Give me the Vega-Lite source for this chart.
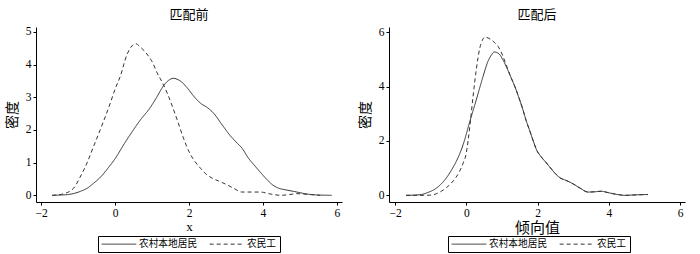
{
  "$schema": "https://vega.github.io/schema/vega-lite/v6.json",
  "background": "white",
  "padding": {"left": 5, "top": 8, "right": 5, "bottom": 0},
  "spacing": 16,
  "config": {
    "font": "Liberation Serif, Noto Sans CJK SC",
    "view": {"stroke": null},
    "axis": {
      "grid": false,
      "domainColor": "#000",
      "tickColor": "#000",
      "labelColor": "#000",
      "titleColor": "#000",
      "labelFont": "Liberation Serif",
      "labelFontSize": 11.5,
      "tickSize": 3,
      "labelPadding": 2,
      "titleFontWeight": "normal",
      "titleFont": "Liberation Serif, Noto Sans CJK SC",
      "domainWidth": 1,
      "tickWidth": 1
    },
    "title": {"fontWeight": "normal", "fontSize": 13, "font": "Liberation Serif, Noto Sans CJK SC", "color": "#000", "offset": 4},
    "legend": {
      "title": null,
      "direction": "horizontal",
      "strokeColor": "#000",
      "fillColor": "white",
      "padding": 3,
      "symbolType": "M-1,0H7",
      "symbolSize": 75,
      "symbolStrokeWidth": 1,
      "symbolStrokeColor": "#333",
      "labelFontSize": 9.7,
      "labelFont": "Noto Sans CJK SC",
      "labelColor": "#000",
      "columnPadding": 9,
      "labelOffset": 28
    }
  },
  "datasets": {
    "before": [
      {"group": "农村本地居民", "x": -1.70, "y": 0},
      {"group": "农村本地居民", "x": -1.45, "y": 0.01},
      {"group": "农村本地居民", "x": -1.30, "y": 0.02},
      {"group": "农村本地居民", "x": -1.10, "y": 0.06},
      {"group": "农村本地居民", "x": -0.94, "y": 0.12},
      {"group": "农村本地居民", "x": -0.75, "y": 0.22},
      {"group": "农村本地居民", "x": -0.58, "y": 0.37},
      {"group": "农村本地居民", "x": -0.40, "y": 0.55},
      {"group": "农村本地居民", "x": -0.20, "y": 0.82},
      {"group": "农村本地居民", "x": 0.00, "y": 1.12},
      {"group": "农村本地居民", "x": 0.25, "y": 1.58},
      {"group": "农村本地居民", "x": 0.50, "y": 2.01},
      {"group": "农村本地居民", "x": 0.70, "y": 2.33},
      {"group": "农村本地居民", "x": 0.91, "y": 2.62},
      {"group": "农村本地居民", "x": 1.10, "y": 2.95},
      {"group": "农村本地居民", "x": 1.31, "y": 3.35},
      {"group": "农村本地居民", "x": 1.45, "y": 3.52},
      {"group": "农村本地居民", "x": 1.58, "y": 3.58},
      {"group": "农村本地居民", "x": 1.70, "y": 3.54},
      {"group": "农村本地居民", "x": 1.80, "y": 3.47},
      {"group": "农村本地居民", "x": 1.95, "y": 3.29},
      {"group": "农村本地居民", "x": 2.13, "y": 3.03},
      {"group": "农村本地居民", "x": 2.31, "y": 2.82},
      {"group": "农村本地居民", "x": 2.50, "y": 2.68},
      {"group": "农村本地居民", "x": 2.66, "y": 2.52},
      {"group": "农村本地居民", "x": 2.90, "y": 2.15},
      {"group": "农村本地居民", "x": 3.12, "y": 1.82},
      {"group": "农村本地居民", "x": 3.30, "y": 1.60},
      {"group": "农村本地居民", "x": 3.43, "y": 1.45},
      {"group": "农村本地居民", "x": 3.60, "y": 1.15},
      {"group": "农村本地居民", "x": 3.79, "y": 0.89},
      {"group": "农村本地居民", "x": 3.95, "y": 0.68},
      {"group": "农村本地居民", "x": 4.11, "y": 0.48},
      {"group": "农村本地居民", "x": 4.25, "y": 0.33},
      {"group": "农村本地居民", "x": 4.42, "y": 0.22},
      {"group": "农村本地居民", "x": 4.60, "y": 0.17},
      {"group": "农村本地居民", "x": 4.83, "y": 0.12},
      {"group": "农村本地居民", "x": 5.00, "y": 0.08},
      {"group": "农村本地居民", "x": 5.19, "y": 0.04},
      {"group": "农村本地居民", "x": 5.46, "y": 0.01},
      {"group": "农村本地居民", "x": 5.86, "y": 0},
      {"group": "农民工", "x": -1.70, "y": 0},
      {"group": "农民工", "x": -1.45, "y": 0.03},
      {"group": "农民工", "x": -1.12, "y": 0.22},
      {"group": "农民工", "x": -0.95, "y": 0.55},
      {"group": "农民工", "x": -0.76, "y": 0.99},
      {"group": "农民工", "x": -0.58, "y": 1.50},
      {"group": "农民工", "x": -0.40, "y": 2.01},
      {"group": "农民工", "x": -0.13, "y": 2.82},
      {"group": "农民工", "x": 0.00, "y": 3.25},
      {"group": "农民工", "x": 0.14, "y": 3.64},
      {"group": "农民工", "x": 0.32, "y": 4.30},
      {"group": "农民工", "x": 0.42, "y": 4.52},
      {"group": "农民工", "x": 0.55, "y": 4.64},
      {"group": "农民工", "x": 0.70, "y": 4.52},
      {"group": "农民工", "x": 0.91, "y": 4.25},
      {"group": "农民工", "x": 1.02, "y": 4.05},
      {"group": "农民工", "x": 1.14, "y": 3.74},
      {"group": "农民工", "x": 1.28, "y": 3.45},
      {"group": "农民工", "x": 1.41, "y": 3.13},
      {"group": "农民工", "x": 1.55, "y": 2.72},
      {"group": "农民工", "x": 1.68, "y": 2.31},
      {"group": "农民工", "x": 1.85, "y": 1.75},
      {"group": "农民工", "x": 2.02, "y": 1.29},
      {"group": "农民工", "x": 2.15, "y": 1.05},
      {"group": "农民工", "x": 2.31, "y": 0.83},
      {"group": "农民工", "x": 2.45, "y": 0.66},
      {"group": "农民工", "x": 2.62, "y": 0.53},
      {"group": "农民工", "x": 2.80, "y": 0.44},
      {"group": "农民工", "x": 3.03, "y": 0.32},
      {"group": "农民工", "x": 3.20, "y": 0.22},
      {"group": "农民工", "x": 3.43, "y": 0.10},
      {"group": "农民工", "x": 3.70, "y": 0.10},
      {"group": "农民工", "x": 3.93, "y": 0.10},
      {"group": "农民工", "x": 4.20, "y": 0.04},
      {"group": "农民工", "x": 4.47, "y": 0.00},
      {"group": "农民工", "x": 4.70, "y": 0.02},
      {"group": "农民工", "x": 4.92, "y": 0.05},
      {"group": "农民工", "x": 5.20, "y": 0.03},
      {"group": "农民工", "x": 5.55, "y": 0}
    ],
    "after": [
      {"group": "农村本地居民", "x": -1.69, "y": 0},
      {"group": "农村本地居民", "x": -1.45, "y": 0.01},
      {"group": "农村本地居民", "x": -1.26, "y": 0.03},
      {"group": "农村本地居民", "x": -1.05, "y": 0.12},
      {"group": "农村本地居民", "x": -0.89, "y": 0.22},
      {"group": "农村本地居民", "x": -0.72, "y": 0.40},
      {"group": "农村本地居民", "x": -0.56, "y": 0.64},
      {"group": "农村本地居民", "x": -0.42, "y": 0.92},
      {"group": "农村本地居民", "x": -0.28, "y": 1.25},
      {"group": "农村本地居民", "x": -0.09, "y": 1.86},
      {"group": "农村本地居民", "x": 0.10, "y": 2.72},
      {"group": "农村本地居民", "x": 0.28, "y": 3.51},
      {"group": "农村本地居民", "x": 0.47, "y": 4.37},
      {"group": "农村本地居民", "x": 0.61, "y": 4.93},
      {"group": "农村本地居民", "x": 0.70, "y": 5.15},
      {"group": "农村本地居民", "x": 0.78, "y": 5.27},
      {"group": "农村本地居民", "x": 0.86, "y": 5.25},
      {"group": "农村本地居民", "x": 0.94, "y": 5.17},
      {"group": "农村本地居民", "x": 1.03, "y": 4.98},
      {"group": "农村本地居民", "x": 1.12, "y": 4.74},
      {"group": "农村本地居民", "x": 1.24, "y": 4.38},
      {"group": "农村本地居民", "x": 1.36, "y": 4.01},
      {"group": "农村本地居民", "x": 1.48, "y": 3.58},
      {"group": "农村本地居民", "x": 1.59, "y": 3.15},
      {"group": "农村本地居民", "x": 1.68, "y": 2.75},
      {"group": "农村本地居民", "x": 1.78, "y": 2.38},
      {"group": "农村本地居民", "x": 1.88, "y": 2.00},
      {"group": "农村本地居民", "x": 1.97, "y": 1.68},
      {"group": "农村本地居民", "x": 2.10, "y": 1.42},
      {"group": "农村本地居民", "x": 2.25, "y": 1.19},
      {"group": "农村本地居民", "x": 2.40, "y": 0.95},
      {"group": "农村本地居民", "x": 2.53, "y": 0.76},
      {"group": "农村本地居民", "x": 2.65, "y": 0.63},
      {"group": "农村本地居民", "x": 2.76, "y": 0.57},
      {"group": "农村本地居民", "x": 2.90, "y": 0.49},
      {"group": "农村本地居民", "x": 3.04, "y": 0.39},
      {"group": "农村本地居民", "x": 3.20, "y": 0.26},
      {"group": "农村本地居民", "x": 3.42, "y": 0.12},
      {"group": "农村本地居民", "x": 3.60, "y": 0.13},
      {"group": "农村本地居民", "x": 3.79, "y": 0.15},
      {"group": "农村本地居民", "x": 3.95, "y": 0.11},
      {"group": "农村本地居民", "x": 4.12, "y": 0.06},
      {"group": "农村本地居民", "x": 4.30, "y": 0.02},
      {"group": "农村本地居民", "x": 4.45, "y": 0},
      {"group": "农村本地居民", "x": 4.65, "y": 0.01},
      {"group": "农村本地居民", "x": 4.82, "y": 0.02},
      {"group": "农村本地居民", "x": 5.10, "y": 0.03},
      {"group": "农民工", "x": -1.69, "y": 0},
      {"group": "农民工", "x": -1.20, "y": 0},
      {"group": "农民工", "x": -0.98, "y": 0.01},
      {"group": "农民工", "x": -0.84, "y": 0.06},
      {"group": "农民工", "x": -0.70, "y": 0.15},
      {"group": "农民工", "x": -0.56, "y": 0.28},
      {"group": "农民工", "x": -0.42, "y": 0.45},
      {"group": "农民工", "x": -0.30, "y": 0.64},
      {"group": "农民工", "x": -0.19, "y": 0.88},
      {"group": "农民工", "x": -0.09, "y": 1.18},
      {"group": "农民工", "x": 0.00, "y": 1.56},
      {"group": "农民工", "x": 0.05, "y": 2.00},
      {"group": "农民工", "x": 0.10, "y": 2.54},
      {"group": "农民工", "x": 0.19, "y": 3.64},
      {"group": "农民工", "x": 0.28, "y": 4.62},
      {"group": "农民工", "x": 0.38, "y": 5.42},
      {"group": "农民工", "x": 0.45, "y": 5.70},
      {"group": "农民工", "x": 0.52, "y": 5.82},
      {"group": "农民工", "x": 0.61, "y": 5.79},
      {"group": "农民工", "x": 0.70, "y": 5.72},
      {"group": "农民工", "x": 0.80, "y": 5.61},
      {"group": "农民工", "x": 0.89, "y": 5.48},
      {"group": "农民工", "x": 0.96, "y": 5.32},
      {"group": "农民工", "x": 1.03, "y": 5.11},
      {"group": "农民工", "x": 1.12, "y": 4.80},
      {"group": "农民工", "x": 1.24, "y": 4.38},
      {"group": "农民工", "x": 1.36, "y": 4.01},
      {"group": "农民工", "x": 1.48, "y": 3.58},
      {"group": "农民工", "x": 1.59, "y": 3.15},
      {"group": "农民工", "x": 1.68, "y": 2.75},
      {"group": "农民工", "x": 1.78, "y": 2.38},
      {"group": "农民工", "x": 1.88, "y": 2.00},
      {"group": "农民工", "x": 1.97, "y": 1.68},
      {"group": "农民工", "x": 2.10, "y": 1.42},
      {"group": "农民工", "x": 2.25, "y": 1.19},
      {"group": "农民工", "x": 2.40, "y": 0.95},
      {"group": "农民工", "x": 2.53, "y": 0.76},
      {"group": "农民工", "x": 2.65, "y": 0.63},
      {"group": "农民工", "x": 2.76, "y": 0.57},
      {"group": "农民工", "x": 2.90, "y": 0.49},
      {"group": "农民工", "x": 3.04, "y": 0.39},
      {"group": "农民工", "x": 3.20, "y": 0.26},
      {"group": "农民工", "x": 3.42, "y": 0.12},
      {"group": "农民工", "x": 3.60, "y": 0.13},
      {"group": "农民工", "x": 3.79, "y": 0.15},
      {"group": "农民工", "x": 3.95, "y": 0.11},
      {"group": "农民工", "x": 4.12, "y": 0.06},
      {"group": "农民工", "x": 4.30, "y": 0.02},
      {"group": "农民工", "x": 4.45, "y": 0},
      {"group": "农民工", "x": 4.65, "y": 0.01},
      {"group": "农民工", "x": 4.82, "y": 0.02},
      {"group": "农民工", "x": 5.10, "y": 0.03}
    ]
  },
  "resolve": {"legend": {"strokeDash": "independent"}},
  "hconcat": [
    {
      "width": 306,
      "height": 175,
      "title": "匹配前",
      "data": {"name": "before"},
      "mark": {"type": "line", "interpolate": "monotone", "color": "#333", "strokeWidth": 1},
      "encoding": {
        "x": {"field": "x", "type": "quantitative", "scale": {"domain": [-2.14, 6.14], "nice": false, "zero": false},
              "axis": {"values": [-2, 0, 2, 4, 6], "title": "x", "titleFontSize": 13, "titlePadding": 2}},
        "y": {"field": "y", "type": "quantitative", "scale": {"domain": [-0.205, 5.15], "nice": false, "zero": false},
              "axis": {"values": [0, 1, 2, 3, 4, 5], "title": "密度", "titleFontSize": 14, "labelAngle": 0, "titlePadding": 6}},
        "strokeDash": {"field": "group", "type": "nominal", "sort": ["农村本地居民", "农民工"],
                       "scale": {"domain": ["农村本地居民", "农民工"], "range": [[1, 0], [4, 3]]},
                       "legend": {"orient": "none", "legendX": 62, "legendY": 209}}
      }
    },
    {
      "width": 296,
      "height": 175,
      "title": "匹配后",
      "data": {"name": "after"},
      "mark": {"type": "line", "interpolate": "monotone", "color": "#333", "strokeWidth": 1},
      "encoding": {
        "x": {"field": "x", "type": "quantitative", "scale": {"domain": [-2.17, 6.14], "nice": false, "zero": false},
              "axis": {"values": [-2, 0, 2, 4, 6], "title": "倾向值", "titleFontSize": 15, "titlePadding": 2}},
        "y": {"field": "y", "type": "quantitative", "scale": {"domain": [-0.245, 6.19], "nice": false, "zero": false},
              "axis": {"values": [0, 2, 4, 6], "title": "密度", "titleFontSize": 14, "labelAngle": 0, "titlePadding": 6}},
        "strokeDash": {"field": "group", "type": "nominal", "sort": ["农村本地居民", "农民工"],
                       "scale": {"domain": ["农村本地居民", "农民工"], "range": [[1, 0], [4, 3]]},
                       "legend": {"orient": "none", "legendX": 59, "legendY": 209}}
      }
    }
  ]
}
